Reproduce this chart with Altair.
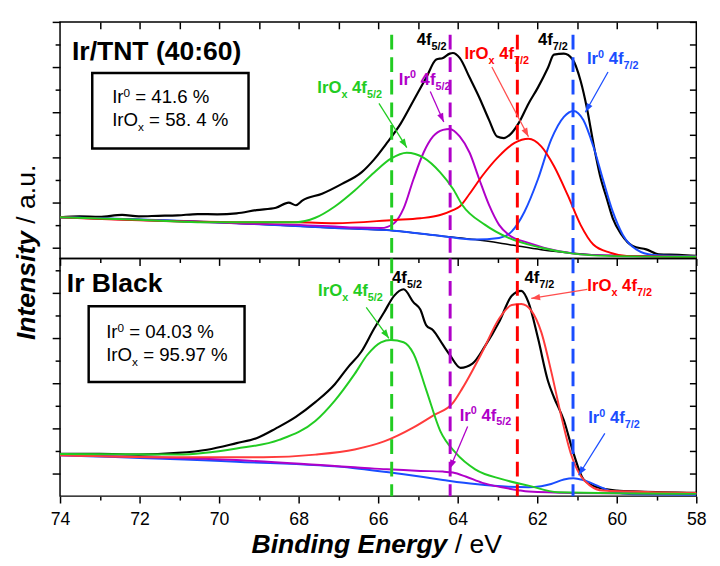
import math
import altair as alt
import pandas as pd

FONT = "Liberation Sans"
GREEN = "#22cc22"
PURPLE = "#b000c8"
RED = "#ff0000"
RED_SOFT = "#ff3b3b"
RED_ARROW = "#ff4d4d"
BLUE = "#1a4dff"
BLACK = "#000000"

# ---------------- axes / ticks ----------------
EV_DOMAIN = [58, 74]
X_MAJOR = [58, 60, 62, 64, 66, 68, 70, 72, 74]
X_MINOR = [59, 61, 63, 65, 67, 69, 71, 73]
X_INNER = list(range(59, 74))

PLOT_W = 648
TOP_PLOT_H = 241
BOT_PLOT_H = 242
TOP_Y_DOMAIN = [0, 241]
BOT_Y_DOMAIN = [0, 242]
TOP_Y_MAJOR = [11, 57, 103, 149, 195, 241]
TOP_Y_MINOR = [34, 80, 126, 172, 218]
BOT_Y_MAJOR = [23, 69, 115, 161, 207]
BOT_Y_MINOR = [46, 92, 138, 184, 230]

# ---------------- Panel 1 : Ir/TNT (40:60) ----------------
tnt_env_ev = [74.00, 73.51, 73.01, 72.44, 72.02, 71.53, 71.04, 70.54, 70.05, 69.56, 69.06, 68.57, 68.25,
              68.07, 67.90, 67.41, 66.91, 66.42, 66.10, 65.78, 65.43, 65.11, 64.79, 64.54, 64.37, 64.20,
              64.12, 63.95, 63.70, 63.46, 63.21, 63.01, 62.84, 62.69, 62.47, 62.22, 61.98, 61.73, 61.58,
              61.33, 61.11, 60.91, 60.74, 60.59, 60.42, 60.25, 60.10, 59.88, 59.60, 59.26, 58.94, 58.44, 58.00]
tnt_env_int = [42, 43, 42.5, 44.5, 43, 43.5, 44, 45.3, 45, 46, 49.3, 51.7, 57,
               54.3, 59.3, 66, 76, 87.7, 101, 117.7, 137.7, 161, 184.3, 202.7, 204.3, 208.7,
               209.3, 204.3, 184.3, 164.3, 141, 124.3, 122.7, 126, 137.7, 157.7, 174.3, 194.3, 207.7,
               208.7, 202.7, 181, 151, 117.7, 84.3, 61, 41, 24.3, 12.7, 9.3, 4.3, 3.7, 2.7]
tnt_bg_ev = [74.0, 69.56, 67.09, 65.60, 64.37, 63.56, 62.72, 61.90, 61.09, 60.10, 58.0]
tnt_bg_int = [42, 36, 31, 28.3, 22.7, 19.3, 14.3, 9.0, 5.5, 3.0, 2.0]
tnt_irox52_ev = [74.0, 72.0, 70.54, 69.56, 68.07, 67.58, 67.09, 66.59, 66.10, 65.68, 65.28, 64.86, 64.44,
                 64.12, 63.88, 63.31, 62.72, 61.90, 61.09, 60.25, 58.0]
tnt_irox52_int = [42, 39.5, 37, 37, 37, 41.5, 53, 69.3, 87.7, 101.7, 107.7, 102.7, 87.7,
                  71, 54.3, 34.3, 21, 11, 5, 2.7, 1.7]
tnt_ir52_ev = [74.0, 69.56, 67.09, 66.59, 65.93, 65.60, 65.36, 65.11, 64.86, 64.62, 64.37, 64.20, 63.95,
               63.70, 63.46, 63.21, 62.96, 62.72, 62.22, 61.48, 60.67, 58.0]
tnt_ir52_int = [42, 36, 32.7, 31.5, 31, 36, 51, 81, 107.7, 124.3, 131, 132, 124.3,
                107.7, 81, 54.3, 34.3, 24.3, 16, 7.7, 3.7, 1.7]
tnt_irox72_ev = [74.0, 69.56, 68.07, 67.09, 65.60, 64.94, 64.44, 64.12, 63.95, 63.70, 63.38, 62.96, 62.57,
                 62.22, 61.90, 61.58, 61.23, 60.91, 60.59, 60.17, 59.75, 58.0]
tnt_irox72_int = [42, 37, 37, 36, 39.3, 41, 44.3, 49.3, 53, 66, 84.3, 104.3, 117.7,
                  122, 114.3, 94.3, 64.3, 34.3, 14.3, 6, 2.7, 1.7]
tnt_ir72_ev = [74.0, 69.56, 67.09, 65.60, 64.37, 63.56, 62.96, 62.64, 62.32, 61.98, 61.65, 61.33, 61.09,
               60.84, 60.59, 60.35, 60.10, 59.85, 59.51, 59.09, 58.0]
tnt_ir72_int = [42, 36, 31, 28.3, 22.7, 19.3, 21, 27.7, 47.7, 81, 121, 144.3, 150.3,
                141, 114.3, 81, 47.7, 24.3, 9.3, 3.7, 2.3]

# ---------------- Panel 2 : Ir Black ----------------
blk_env_ev = [74.00, 73.01, 72.02, 71.04, 70.30, 69.56, 69.06, 68.57, 68.07, 67.58, 67.09, 66.77, 66.42,
              66.10, 65.85, 65.60, 65.36, 65.11, 64.94, 64.79, 64.62, 64.37, 64.20, 63.93, 63.63, 63.31,
              62.96, 62.64, 62.40, 62.22, 61.98, 61.73, 61.58, 61.33, 61.09, 60.84, 60.49, 60.00, 59.43, 58.00]
blk_env_int = [43, 43, 42.3, 44, 47.3, 54, 59, 69, 80.7, 95.7, 114, 130.7, 147.3,
               170.7, 187.3, 204, 210.7, 197.3, 190, 174, 169, 154, 144, 130.7, 135, 153,
               177.3, 204, 209, 197.3, 160.7, 117.3, 100.7, 77.3, 44, 17.3, 9, 5.7, 4.7, 3.3]
blk_irox52_ev = [74.0, 71.04, 69.56, 68.49, 67.58, 67.09, 66.59, 66.27, 65.93, 65.68, 65.36, 65.11, 64.79,
                 64.44, 64.05, 63.56, 62.89, 62.22, 61.48, 58.0]
blk_irox52_int = [43, 42.3, 48.5, 57.3, 76.5, 97.3, 124.5, 144, 156.7, 159, 156.7, 145, 108,
                  66.5, 44, 27.3, 17.3, 10.7, 4, 2.3]
blk_irox72_ev = [74.0, 71.36, 68.89, 67.58, 66.59, 65.85, 65.11, 64.62, 64.12, 63.88, 63.38, 62.96, 62.64,
                 62.40, 62.15, 61.90, 61.65, 61.41, 61.16, 60.91, 60.67, 60.35, 58.0]
blk_irox72_int = [41.7, 39.7, 39.7, 42.3, 47.5, 55.7, 70, 82, 95, 110, 147, 180.7, 194.7,
                  195.7, 189, 167.3, 127.3, 84, 44, 20.7, 10.7, 5.7, 3.3]
blk_ir52_ev = [74.0, 69.56, 67.09, 66.59, 65.78, 64.94, 64.37, 64.12, 63.80, 63.38, 62.89, 62.47, 62.22, 61.09, 58.0]
blk_ir52_int = [41.7, 36.7, 30.7, 29.5, 27.3, 25.7, 25, 24, 20, 13.5, 9, 6, 4.7, 3.3, 2.5]
blk_ir72_ev = [74.0, 69.56, 66.59, 65.36, 64.37, 63.56, 62.72, 62.22, 61.90, 61.65, 61.33, 61.09, 60.84,
               60.49, 60.10, 59.60, 58.0]
blk_ir72_int = [41.7, 35, 28.5, 22.3, 16.5, 12.3, 9.5, 9, 10, 12.3, 17, 18.3, 16.3,
                10.7, 4.5, 2, 1.5]

# ---------------- reference peak positions (dashed lines) ----------------
peak_ev = [65.66, 64.19, 62.5, 61.1]
peak_color = [GREEN, PURPLE, RED, BLUE]
tnt_peak_top = 228
blk_peak_top = 242

# ---------------- annotations ----------------
tnt_labels = [
    (65.03, 217.7, BLACK, [("4f", "lab"), ("5/2", "lab_sub")]),
    (61.98, 217.7, BLACK, [("4f", "lab"), ("7/2", "lab_sub")]),
    (63.83, 203.3, RED, [("IrO", "lab"), ("x", "lab_sub"), (" 4f", "lab"), ("7/2", "lab_sub")]),
    (60.75, 197.7, BLUE, [("Ir", "lab"), ("0", "lab_sup"), (" 4f", "lab"), ("7/2", "lab_sub")]),
    (65.48, 177.0, PURPLE, [("Ir", "lab"), ("0", "lab_sup"), (" 4f", "lab"), ("5/2", "lab_sub")]),
    (67.53, 168.3, GREEN, [("IrO", "lab"), ("x", "lab_sub"), (" 4f", "lab"), ("5/2", "lab_sub")]),
    (72.69, 158.7, BLACK, [("Ir", "box"), ("0", "box_sup"), (" = 41.6 %", "box")]),
    (72.69, 135.3, BLACK, [("IrO", "box"), ("x", "box_sub"), (" = 58. 4 %", "box")]),
    (73.70, 202.0, BLACK, [("Ir/TNT (40:60)", "title")]),
]
blk_labels = [
    (65.65, 217.0, BLACK, [("4f", "lab"), ("5/2", "lab_sub")]),
    (62.32, 217.0, BLACK, [("4f", "lab"), ("7/2", "lab_sub")]),
    (60.74, 209.0, RED, [("IrO", "lab"), ("x", "lab_sub"), (" 4f", "lab"), ("7/2", "lab_sub")]),
    (67.51, 204.0, GREEN, [("IrO", "lab"), ("x", "lab_sub"), (" 4f", "lab"), ("5/2", "lab_sub")]),
    (63.95, 77.0, PURPLE, [("Ir", "lab"), ("0", "lab_sup"), (" 4f", "lab"), ("5/2", "lab_sub")]),
    (60.72, 74.0, BLUE, [("Ir", "lab"), ("0", "lab_sup"), (" 4f", "lab"), ("7/2", "lab_sub")]),
    (72.84, 160.7, BLACK, [("Ir", "box"), ("0", "box_sup"), (" = 04.03 %", "box")]),
    (72.84, 137.3, BLACK, [("IrO", "box"), ("x", "box_sub"), (" = 95.97 %", "box")]),
    (73.83, 208.3, BLACK, [("Ir Black", "title")]),
]
# arrows: start ev, start intensity, tip ev, tip intensity, colour
tnt_arrow_ev0 = [65.98, 64.69, 63.14, 60.22]
tnt_arrow_i0 = [158, 170, 195, 190]
tnt_arrow_ev1 = [65.28, 64.35, 62.22, 60.79]
tnt_arrow_i1 = [113, 139, 124, 149]
tnt_arrow_col = [GREEN, PURPLE, RED_ARROW, BLUE]
blk_arrow_ev0 = [66.30, 60.74, 63.75, 60.30]
blk_arrow_i0 = [192.3, 210.7, 71, 64]
blk_arrow_ev1 = [65.73, 62.15, 64.20, 60.96]
blk_arrow_i1 = [160.7, 201.3, 28, 21.3]
blk_arrow_col = [GREEN, RED_ARROW, PURPLE, BLUE]
# composition boxes: ev left, ev right, intensity low, intensity high
tnt_box = [73.19, 69.26, 112, 189]
blk_box = [73.28, 69.36, 116.3, 193.3]

# ---------------- helpers ----------------
PX_PER_EV = PLOT_W / (EV_DOMAIN[1] - EV_DOMAIN[0])

BOLD_W = {' ': 278, '%': 889, '(': 333, ')': 333, '.': 278, '/': 278, ':': 333, '=': 584,
          'B': 722, 'E': 667, 'I': 278, 'N': 722, 'O': 778, 'T': 611, 'V': 667,
          'a': 556, 'c': 556, 'd': 611, 'e': 556, 'f': 333, 'g': 611, 'i': 278, 'k': 556,
          'l': 278, 'n': 611, 'r': 389, 's': 556, 't': 333, 'u': 611, 'x': 556, 'y': 556}
REG_W = {' ': 278, '%': 889, '.': 278, '/': 278, '=': 584, 'I': 278, 'O': 778, 'V': 667,
         'a': 556, 'e': 556, 'r': 333, 'u': 556, 'x': 500, 'f': 278}

STYLES = {
    "lab": dict(size=17, bold=True, rise=0),
    "lab_sub": dict(size=11, bold=True, rise=-5),
    "lab_sup": dict(size=11, bold=True, rise=7),
    "box": dict(size=19, bold=False, rise=0),
    "box_sub": dict(size=12, bold=False, rise=-5),
    "box_sup": dict(size=12, bold=False, rise=6),
    "title": dict(size=27, bold=True, rise=0),
}


def text_width(s, size, bold):
    table = BOLD_W if bold else REG_W
    return sum(table.get(c, 556) for c in s) * size / 1000.0


def xscale():
    return alt.Scale(domain=EV_DOMAIN, reverse=True, nice=False, zero=False)


def yscale(dom):
    return alt.Scale(domain=dom, nice=False, zero=False)


def tick_axis(orient, values, size, offset=0, labels=False):
    kw = dict(orient=orient, values=values, tickSize=size, tickWidth=1.5, tickColor=BLACK,
              domain=False, grid=False, title=None, labels=labels)
    if offset:
        kw["offset"] = offset
    if labels:
        kw.update(labelFont=FONT, labelFontSize=18, labelColor=BLACK, labelPadding=8,
                  labelFlush=False, labelOverlap=False)
    return alt.Axis(**kw)


def curve(ev, inten, color, ydom, width=2.0, xaxis=None, yaxis=None):
    df = pd.DataFrame({"ev": ev, "intensity": inten})
    return alt.Chart(df).mark_line(color=color, strokeWidth=width, interpolate="monotone").encode(
        x=alt.X("ev:Q", scale=xscale(), axis=xaxis),
        y=alt.Y("intensity:Q", scale=yscale(ydom), axis=yaxis),
        order=alt.Order("ev:Q", sort="descending"),
    )


def text_layers(labels, ydom, plot_h):
    px_per_unit = plot_h / (ydom[1] - ydom[0])
    rows = []
    for ev, inten, color, segs in labels:
        off = 0.0
        for text, style in segs:
            st = STYLES[style]
            lead = len(text) - len(text.lstrip(" "))
            off += text_width(" " * lead, st["size"], st["bold"])
            body = text.lstrip(" ")
            rows.append({"ev": ev - off / PX_PER_EV, "intensity": inten + st["rise"] / px_per_unit,
                         "text": body, "color": color, "style": style})
            off += text_width(body, st["size"], st["bold"])
    df = pd.DataFrame(rows)
    layers = []
    for style, sub in df.groupby("style"):
        st = STYLES[style]
        layers.append(alt.Chart(sub).mark_text(
            font=FONT, fontSize=st["size"], fontWeight="bold" if st["bold"] else "normal",
            align="left", baseline="alphabetic").encode(
            x=alt.X("ev:Q", scale=xscale(), axis=None),
            y=alt.Y("intensity:Q", scale=yscale(ydom), axis=None),
            text="text:N",
            color=alt.Color("color:N", scale=None),
        ))
    return layers


def arrow_layers(ev0, i0, ev1, i1, cols, ydom, plot_h):
    px_per_unit = plot_h / (ydom[1] - ydom[0])
    ang = []
    for a, b, c, d in zip(ev0, i0, ev1, i1):
        dxs = -(c - a) * PX_PER_EV
        dys = -(d - b) * px_per_unit
        ang.append(math.degrees(math.atan2(dxs, -dys)) % 360)
    df = pd.DataFrame({"ev0": ev0, "i0": i0, "ev1": ev1, "i1": i1, "color": cols, "angle": ang})
    lines = alt.Chart(df).mark_rule(strokeWidth=1.3).encode(
        x=alt.X("ev0:Q", scale=xscale(), axis=None), x2="ev1:Q",
        y=alt.Y("i0:Q", scale=yscale(ydom), axis=None), y2="i1:Q",
        color=alt.Color("color:N", scale=None))
    heads = alt.Chart(df).mark_point(shape="M0,0L-0.36,1L0.36,1Z", filled=True, size=324,
                                     strokeWidth=0, opacity=1).encode(
        x=alt.X("ev1:Q", scale=xscale(), axis=None),
        y=alt.Y("i1:Q", scale=yscale(ydom), axis=None),
        color=alt.Color("color:N", scale=None),
        angle=alt.Angle("angle:Q", scale=None))
    return [lines, heads]


def box_layer(box, ydom):
    df = pd.DataFrame({"ev0": [box[0]], "ev1": [box[1]], "i0": [box[2]], "i1": [box[3]]})
    return alt.Chart(df).mark_rect(fillOpacity=0, stroke=BLACK, strokeWidth=2.5).encode(
        x=alt.X("ev0:Q", scale=xscale(), axis=None), x2="ev1:Q",
        y=alt.Y("i0:Q", scale=yscale(ydom), axis=None), y2="i1:Q")


def peak_rules(top, ydom, plot_h, mirror_top):
    df = pd.DataFrame({"ev": peak_ev, "color": peak_color, "top": [top] * 4, "bottom": [0] * 4})
    xaxis = tick_axis("bottom", X_INNER, 7, offset=-plot_h) if mirror_top else None
    return alt.Chart(df).mark_rule(strokeWidth=3, strokeDash=[15, 8]).encode(
        x=alt.X("ev:Q", scale=xscale(), axis=xaxis),
        y=alt.Y("top:Q", scale=yscale(ydom), axis=None),
        y2="bottom:Q",
        color=alt.Color("color:N", scale=None))


def mirror_y_layer(ydom, values):
    df = pd.DataFrame({"ev": [66.0], "intensity": [ydom[0]]})
    return alt.Chart(df).mark_point(opacity=0).encode(
        x=alt.X("ev:Q", scale=xscale(), axis=None),
        y=alt.Y("intensity:Q", scale=yscale(ydom), axis=tick_axis("left", values, 7, offset=-PLOT_W)))


# ---------------- panel 1 ----------------
top_layers = [
    curve(tnt_bg_ev, tnt_bg_int, BLACK, TOP_Y_DOMAIN, width=1.5),
    curve(tnt_env_ev, tnt_env_int, BLACK, TOP_Y_DOMAIN, width=2.2,
          xaxis=tick_axis("bottom", X_MAJOR, 7), yaxis=tick_axis("left", TOP_Y_MAJOR, 8)),
    curve(tnt_ir72_ev, tnt_ir72_int, BLUE, TOP_Y_DOMAIN),
    curve(tnt_ir52_ev, tnt_ir52_int, PURPLE, TOP_Y_DOMAIN),
    curve(tnt_irox72_ev, tnt_irox72_int, RED, TOP_Y_DOMAIN),
    curve(tnt_irox52_ev, tnt_irox52_int, GREEN, TOP_Y_DOMAIN,
          xaxis=tick_axis("bottom", X_MINOR, 4), yaxis=tick_axis("left", TOP_Y_MINOR, 5)),
    peak_rules(tnt_peak_top, TOP_Y_DOMAIN, TOP_PLOT_H, True),
    mirror_y_layer(TOP_Y_DOMAIN, sorted(TOP_Y_MAJOR + TOP_Y_MINOR)),
    box_layer(tnt_box, TOP_Y_DOMAIN),
]
top_layers += arrow_layers(tnt_arrow_ev0, tnt_arrow_i0, tnt_arrow_ev1, tnt_arrow_i1, tnt_arrow_col,
                           TOP_Y_DOMAIN, TOP_PLOT_H)
top_layers += text_layers(tnt_labels, TOP_Y_DOMAIN, TOP_PLOT_H)
top = alt.layer(*top_layers).resolve_axis(x="independent", y="independent").properties(
    width=PLOT_W, height=TOP_PLOT_H)

# ---------------- panel 2 ----------------
x_title_df = pd.DataFrame({"ev": [64.26], "intensity": [0]})
y_title_df = pd.DataFrame({"ev": [74.0], "intensity": [270]})


def title_text(df, text, **kw):
    return alt.Chart(df).mark_text(font=FONT, fontSize=27, baseline="alphabetic", color=BLACK,
                                   text=text, **kw).encode(
        x=alt.X("ev:Q", scale=xscale(), axis=None),
        y=alt.Y("intensity:Q", scale=yscale(BOT_Y_DOMAIN), axis=None))


bot_layers = [
    curve(blk_env_ev, blk_env_int, BLACK, BOT_Y_DOMAIN, width=2.2,
          xaxis=tick_axis("bottom", X_MAJOR, 7, labels=True), yaxis=tick_axis("left", BOT_Y_MAJOR, 8)),
    curve(blk_ir72_ev, blk_ir72_int, BLUE, BOT_Y_DOMAIN),
    curve(blk_ir52_ev, blk_ir52_int, PURPLE, BOT_Y_DOMAIN),
    curve(blk_irox72_ev, blk_irox72_int, RED_SOFT, BOT_Y_DOMAIN),
    curve(blk_irox52_ev, blk_irox52_int, GREEN, BOT_Y_DOMAIN,
          xaxis=tick_axis("bottom", X_MINOR, 4), yaxis=tick_axis("left", BOT_Y_MINOR, 5)),
    peak_rules(blk_peak_top, BOT_Y_DOMAIN, BOT_PLOT_H, False),
    mirror_y_layer(BOT_Y_DOMAIN, sorted(BOT_Y_MAJOR + BOT_Y_MINOR)),
    box_layer(blk_box, BOT_Y_DOMAIN),
    title_text(x_title_df, "Binding Energy", align="right", dy=58, fontWeight="bold", fontStyle="italic"),
    title_text(x_title_df, "/ eV", align="left", dx=7.5, dy=58),
    title_text(y_title_df, "Intensity", align="right", angle=270, dy=-25, fontWeight="bold",
               fontStyle="italic"),
    title_text(y_title_df, "/ a.u.", align="left", angle=270, dx=7.5, dy=-25),
]
bot_layers += arrow_layers(blk_arrow_ev0, blk_arrow_i0, blk_arrow_ev1, blk_arrow_i1, blk_arrow_col,
                           BOT_Y_DOMAIN, BOT_PLOT_H)
bot_layers += text_layers(blk_labels, BOT_Y_DOMAIN, BOT_PLOT_H)
bottom = alt.layer(*bot_layers).resolve_axis(x="independent", y="independent").properties(
    width=PLOT_W, height=BOT_PLOT_H)

chart = alt.vconcat(top, bottom, spacing=0, bounds="flush").properties(
    padding={"left": 5, "top": 7, "right": 5, "bottom": 2}
).configure_view(stroke=BLACK, strokeWidth=1.5)

chart.save("out.html", embed_options={"renderer": "svg", "actions": False})
